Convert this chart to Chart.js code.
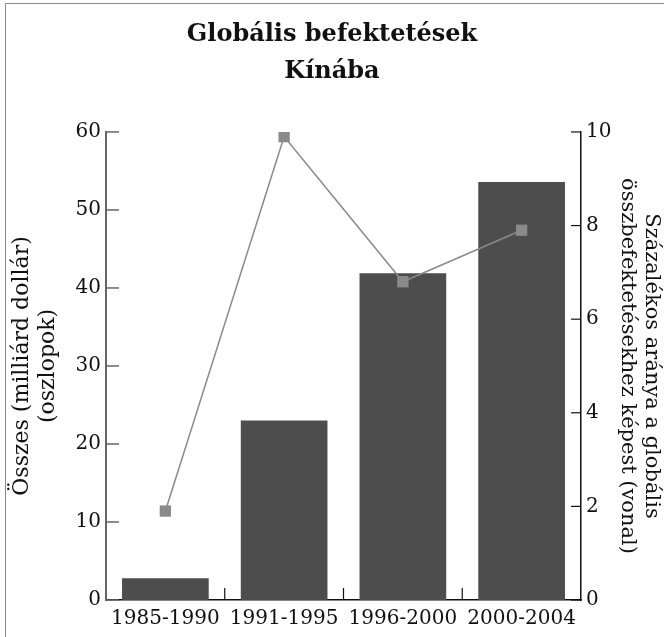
<!DOCTYPE html>
<html>
<head>
<meta charset="utf-8">
<script src="https://cdn.jsdelivr.net/npm/chart.js@4.4.1/dist/chart.umd.min.js"></script>
<style>
  html, body { margin: 0; padding: 0; background: #fff; }
  #wrap { position: relative; width: 664px; height: 637px; }
  #frame { position: absolute; left: 5px; top: 3px; right: 0; bottom: 0; border-top: 1px solid #888; border-left: 1px solid #888; pointer-events: none; }
</style>
</head>
<body>
<div id="wrap">
  <canvas id="chart" width="664" height="637"></canvas>
  <div id="frame"></div>
</div>
<script>
// ─── Data ────────────────────────────────────────────────────────────────
const periods = ['1985-1990', '1991-1995', '1996-2000', '2000-2004'];
const totalBillions = [2.8, 23.0, 41.9, 53.6];   // left axis, bars
const globalSharePct = [1.9, 9.9, 6.8, 7.9];     // right axis, line

const leftTitle = ['Összes (milliárd dollár)', '(oszlopok)'];
const rightTitle = ['Százalékos aránya a globális', 'összbefektetésekhez képest (vonal)'];
const chartTitle = ['Globális befektetések', 'Kínába'];

const FONT = "'DejaVu Serif', serif";

// ticks pointing into the plot area, like the original
const innerTicks = {
  id: 'innerTicks',
  afterDraw(chart) {
    const { ctx, chartArea: a, scales: { x, y, y1 } } = chart;
    ctx.save();
    ctx.lineWidth = 1.5;
    ctx.strokeStyle = '#666';
    y.ticks.forEach(t => {
      const py = y.getPixelForValue(t.value);
      ctx.beginPath(); ctx.moveTo(a.left, py); ctx.lineTo(a.left + 13, py); ctx.stroke();
    });
    ctx.strokeStyle = '#111';
    ctx.lineWidth = 1.2;
    y1.ticks.forEach(t => {
      const py = y1.getPixelForValue(t.value);
      ctx.beginPath(); ctx.moveTo(a.right - 10, py); ctx.lineTo(a.right, py); ctx.stroke();
    });
    for (let i = 1; i < periods.length; i++) {
      const px = (x.getPixelForTick(i - 1) + x.getPixelForTick(i)) / 2;
      ctx.beginPath(); ctx.moveTo(px, a.bottom - 12); ctx.lineTo(px, a.bottom); ctx.stroke();
    }
    ctx.restore();
  }
};

new Chart(document.getElementById('chart'), {
  data: {
    labels: periods,
    datasets: [
      {
        type: 'line', label: 'arány', data: globalSharePct, yAxisID: 'y1', order: 0,
        borderColor: '#8a8a8a', borderWidth: 1.5, tension: 0,
        pointStyle: 'rect', pointRadius: 8, pointBackgroundColor: '#8a8a8a', pointBorderColor: '#8a8a8a', pointBorderWidth: 0,
      },
      {
        type: 'bar', label: 'összes', data: totalBillions, yAxisID: 'y', order: 1,
        backgroundColor: '#4d4d4d', borderWidth: 0,
        barPercentage: 0.73, categoryPercentage: 1,
      },
    ],
  },
  options: {
    responsive: false,
    animation: false,
    layout: { padding: 0 },
    plugins: {
      legend: { display: false },
      tooltip: { enabled: false },
      title: {
        display: true, text: chartTitle, color: '#111',
        font: { family: FONT, size: 24, weight: 'bold', lineHeight: 1.52 },
        padding: { top: 17, bottom: 42 },
      },
    },
    scales: {
      x: {
        grid: { display: false, drawTicks: false },
        border: { display: true, color: '#111', width: 1.5 },
        ticks: { color: '#111', font: { family: FONT, size: 20 }, padding: 7, maxRotation: 0 },
        afterFit: s => { s.height = 37; },
      },
      y: {
        position: 'left', min: 0, max: 60,
        grid: { display: false, drawTicks: false },
        border: { display: true, color: '#666', width: 2 },
        ticks: { stepSize: 10, color: '#111', font: { family: FONT, size: 20 }, padding: 5 },
        title: { display: true, text: leftTitle, color: '#111', font: { family: FONT, size: 22, lineHeight: 1.15 }, padding: { top: 10, bottom: 0 } },
        afterFit: s => { s.width = 106; },
      },
      y1: {
        position: 'right', min: 0, max: 10,
        grid: { display: false, drawTicks: false },
        border: { display: true, color: '#111', width: 1.5 },
        ticks: { stepSize: 2, color: '#111', font: { family: FONT, size: 20 }, padding: 5 },
        title: { display: true, text: rightTitle, color: '#111', font: { family: FONT, size: 21, lineHeight: 1.15 }, padding: 0 },
        afterFit: s => { s.width = 83; },
      },
    },
  },
  plugins: [innerTicks],
});
</script>
</body>
</html>
